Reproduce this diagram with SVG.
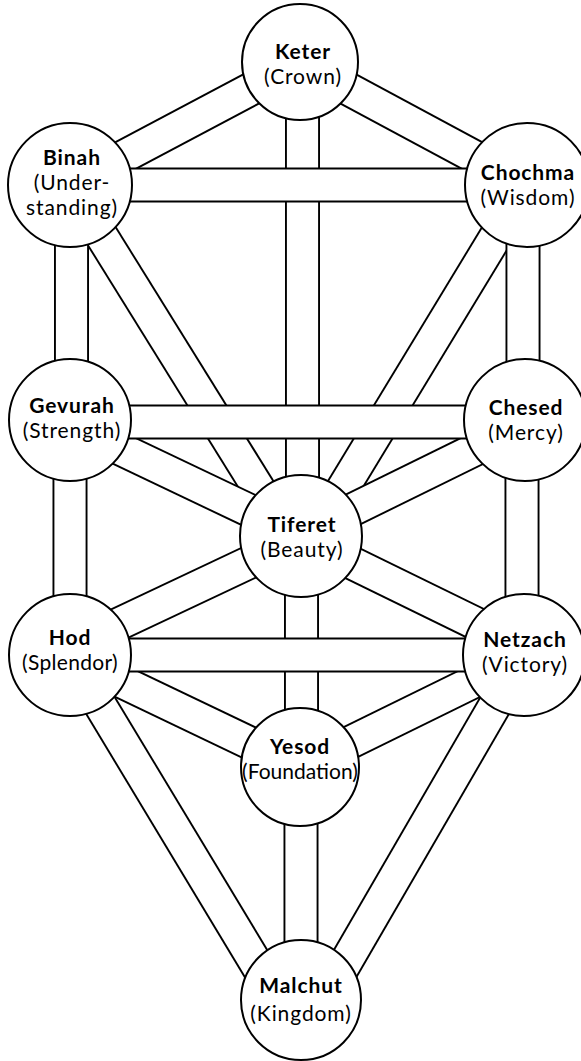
<svg xmlns="http://www.w3.org/2000/svg" xmlns:xlink="http://www.w3.org/1999/xlink" width="581" height="1061" viewBox="0 0 581 1061">
<style>
.o{stroke:#000;stroke-width:35;fill:none}
.i{stroke:#fff;stroke-width:31.2;fill:none}
.node circle{fill:#fff;stroke:#000;stroke-width:2}
text{font-family:Lato,"Open Sans","Liberation Sans",sans-serif;font-size:21px;letter-spacing:0.9px;fill:#000;text-anchor:middle}
.b{font-weight:bold}
.n{letter-spacing:0.3px}
.s{letter-spacing:0}
</style>
<defs>
<line id="kb" x1="300" y1="63" x2="70" y2="185"/>
<line id="kc" x1="300" y1="63" x2="527" y2="185"/>
<line id="bt" x1="70" y1="185" x2="288" y2="536"/>
<line id="ct" x1="527" y1="185" x2="314" y2="536"/>
<line id="gt" x1="70" y1="425" x2="301" y2="535"/>
<line id="cht" x1="525" y1="425" x2="301" y2="535"/>
<line id="ht" x1="70" y1="647" x2="301" y2="538"/>
<line id="nt" x1="524" y1="647" x2="301" y2="538"/>
<line id="hy" x1="70" y1="657" x2="300" y2="767"/>
<line id="ny" x1="524" y1="657" x2="300" y2="767"/>
<line id="hm" x1="70" y1="655" x2="278" y2="1000"/>
<line id="nm" x1="524" y1="655" x2="324" y2="1000"/>
<line id="bg" x1="71.5" y1="185" x2="71.5" y2="420"/>
<line id="gh" x1="70" y1="420" x2="70" y2="655"/>
<line id="cch" x1="523" y1="185" x2="523" y2="420"/>
<line id="chn" x1="522" y1="420" x2="522" y2="655"/>
<line id="kt" x1="302.5" y1="63" x2="302.5" y2="536"/>
<line id="ty" x1="301.5" y1="536" x2="301.5" y2="767"/>
<line id="ym" x1="301" y1="767" x2="301" y2="1000"/>
<line id="bc" x1="70" y1="185" x2="527" y2="185"/>
<line id="gch" x1="70" y1="422" x2="525" y2="422"/>
<line id="hn" x1="70" y1="655" x2="524" y2="655"/>
</defs>
<rect width="581" height="1061" fill="#fff"/>
<g id="connectors">
<use xlink:href="#kb" class="o"/><use xlink:href="#kb" class="i"/>
<use xlink:href="#kc" class="o"/><use xlink:href="#kc" class="i"/>
<use xlink:href="#bt" class="o"/><use xlink:href="#bt" class="i"/>
<use xlink:href="#ct" class="o"/><use xlink:href="#ct" class="i"/>
<use xlink:href="#gt" class="o"/><use xlink:href="#gt" class="i"/>
<use xlink:href="#cht" class="o"/><use xlink:href="#cht" class="i"/>
<use xlink:href="#ht" class="o"/><use xlink:href="#ht" class="i"/>
<use xlink:href="#nt" class="o"/><use xlink:href="#nt" class="i"/>
<use xlink:href="#hy" class="o"/><use xlink:href="#hy" class="i"/>
<use xlink:href="#ny" class="o"/><use xlink:href="#ny" class="i"/>
<use xlink:href="#hm" class="o"/><use xlink:href="#hm" class="i"/>
<use xlink:href="#nm" class="o"/><use xlink:href="#nm" class="i"/>
<use xlink:href="#bg" class="o"/><use xlink:href="#bg" class="i"/>
<use xlink:href="#gh" class="o"/><use xlink:href="#gh" class="i"/>
<use xlink:href="#cch" class="o"/><use xlink:href="#cch" class="i"/>
<use xlink:href="#chn" class="o"/><use xlink:href="#chn" class="i"/>
<use xlink:href="#kt" class="o"/><use xlink:href="#kt" class="i"/>
<use xlink:href="#ty" class="o"/><use xlink:href="#ty" class="i"/>
<use xlink:href="#ym" class="o"/><use xlink:href="#ym" class="i"/>
<use xlink:href="#bc" class="o"/><use xlink:href="#bc" class="i"/>
<use xlink:href="#gch" class="o"/><use xlink:href="#gch" class="i"/>
<use xlink:href="#hn" class="o"/><use xlink:href="#hn" class="i"/>
</g>
<g id="keter" class="node"><circle cx="300" cy="62" r="58"/><text x="303" y="59" class="b">Keter</text><text x="303" y="84">(Crown)</text></g>
<g id="binah" class="node"><circle cx="70" cy="185" r="62"/><text x="72" y="165" class="b">Binah</text><text x="72" y="190">(Under-</text><text x="72" y="215">standing)</text></g>
<g id="chochma" class="node"><circle cx="527" cy="185" r="62"/><text x="528" y="180" class="b">Chochma</text><text x="528" y="205">(Wisdom)</text></g>
<g id="gevurah" class="node"><circle cx="70" cy="420" r="61"/><text x="72" y="413" class="b">Gevurah</text><text x="72" y="438">(Strength)</text></g>
<g id="chesed" class="node"><circle cx="525" cy="420" r="61"/><text x="526" y="415" class="b">Chesed</text><text x="526" y="440">(Mercy)</text></g>
<g id="tiferet" class="node"><circle cx="301" cy="536" r="61"/><text x="302" y="532" class="b">Tiferet</text><text x="302" y="557">(Beauty)</text></g>
<g id="hod" class="node"><circle cx="70" cy="655" r="61"/><text x="70" y="645" class="b">Hod</text><text x="70" y="670" class="n">(Splendor)</text></g>
<g id="netzach" class="node"><circle cx="524" cy="655" r="61"/><text x="525" y="647" class="b">Netzach</text><text x="525" y="672">(Victory)</text></g>
<g id="yesod" class="node"><circle cx="300" cy="767" r="59"/><text x="300" y="754" class="b">Yesod</text><text x="300" y="779" class="s">(Foundation)</text></g>
<g id="malchut" class="node"><circle cx="301" cy="1000" r="60"/><text x="301" y="993" class="b">Malchut</text><text x="301" y="1021">(Kingdom)</text></g>
</svg>
